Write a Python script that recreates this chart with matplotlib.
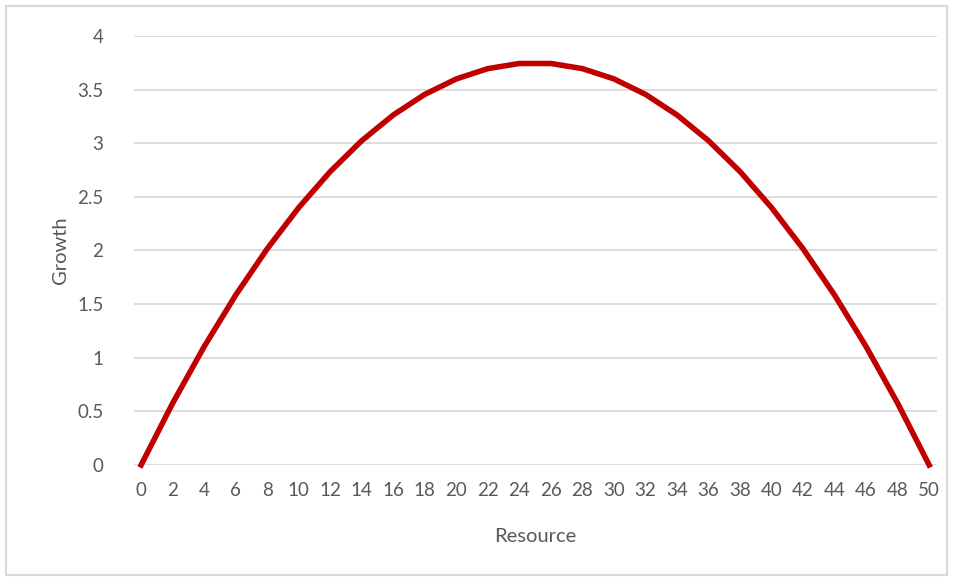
import matplotlib
matplotlib.use("Agg")
import matplotlib.pyplot as plt
from matplotlib.patches import Rectangle

# Resource values and growth
resource = [0, 2, 4, 6, 8, 10, 12, 14, 16, 18, 20, 22, 24,
            26, 28, 30, 32, 34, 36, 38, 40, 42, 44, 46, 48, 50]
growth = [0, 0.576, 1.104, 1.584, 2.016, 2.4, 2.736, 3.024, 3.264, 3.456, 3.6, 3.696, 3.744,
          3.744, 3.696, 3.6, 3.456, 3.264, 3.024, 2.736, 2.4, 2.016, 1.584, 1.104, 0.576, 0]
y_ticks = [0, 0.5, 1, 1.5, 2, 2.5, 3, 3.5, 4]
y_labels = ["0", "0.5", "1", "1.5", "2", "2.5", "3", "3.5", "4"]

plt.rcParams['font.family'] = ['Lato', 'DejaVu Sans']
grey = '#595959'

fig = plt.figure(figsize=(9.54, 5.81), dpi=100)
ax = fig.add_axes([0.1405, 0.1997, 0.8417, 0.7383])

ax.plot(resource, growth, color='#C00000', lw=4.0, solid_joinstyle='round', zorder=3)

ax.set_xlim(-0.45, 50.5)
ax.set_ylim(0, 4)
ax.set_xticks(resource)
ax.set_xticklabels([str(r) for r in resource])
ax.set_yticks(y_ticks)
ax.set_yticklabels(y_labels)
ax.tick_params(length=0, labelsize=13.5, labelcolor=grey)
ax.tick_params(axis='x', pad=12)
ax.tick_params(axis='y', pad=22)
ax.grid(axis='y', color='#D9D9D9', lw=1.3)
ax.set_axisbelow(True)
for s in ax.spines.values():
    s.set_visible(False)
for line in ax.get_lines():
    line.set_clip_on(False)

ax.set_xlabel('Resource', fontsize=14.5, color=grey, labelpad=21)
ax.set_ylabel('Growth', fontsize=14.5, color=grey, labelpad=6)

# chart border
fig.patches.append(Rectangle((6 / 954, 6 / 581), 941 / 954, 569 / 581,
                             transform=fig.transFigure, fill=False,
                             edgecolor='#D9D9D9', lw=1.5))

fig.savefig('out.png', dpi=100)
